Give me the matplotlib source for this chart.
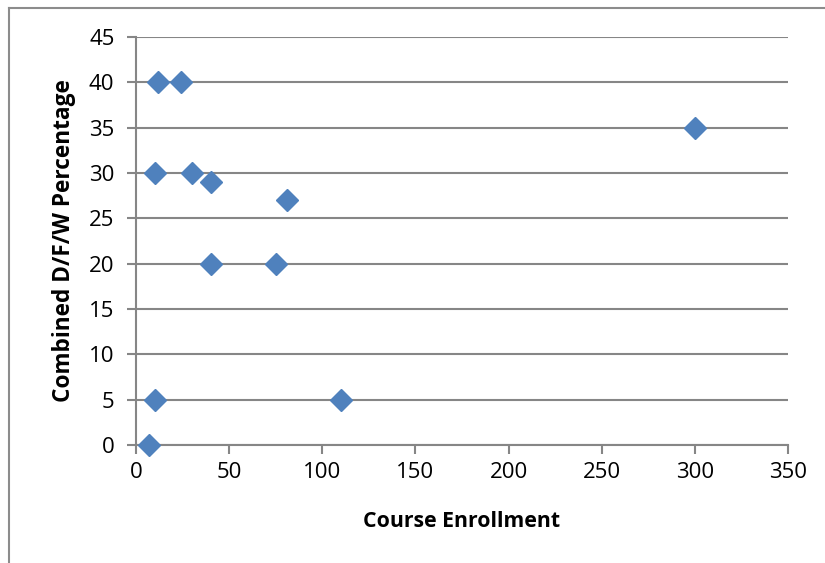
import matplotlib
matplotlib.use("Agg")
import matplotlib.pyplot as plt
from matplotlib.lines import Line2D

# Course enrollment vs combined D/F/W percentage
enrollment = [12, 24, 10, 30, 40, 81, 40, 75, 10, 110, 7, 300]
dfw_pct = [40, 40, 30, 30, 29, 27, 20, 20, 5, 5, 0, 35]

x_ticks = [0, 50, 100, 150, 200, 250, 300, 350]
y_ticks = [0, 5, 10, 15, 20, 25, 30, 35, 40, 45]

plt.rcParams['font.family'] = ['Open Sans', 'DejaVu Sans']

W, H = 825, 563
fig = plt.figure(figsize=(W / 100, H / 100), dpi=100)
ax = fig.add_axes([136 / W, 1 - 445 / H, (788 - 136) / W, (445 - 37) / H])

grid_col = '#868686'
ax.set_xlim(0, 350)
ax.set_ylim(0, 45)
ax.set_xticks(x_ticks)
ax.set_yticks(y_ticks)
ax.yaxis.grid(True, color=grid_col, linewidth=1.5)
ax.set_axisbelow(True)

for side in ('top', 'right'):
    ax.spines[side].set_visible(False)
for side in ('left', 'bottom'):
    ax.spines[side].set_color(grid_col)
    ax.spines[side].set_linewidth(1.5)

ax.tick_params(axis='both', direction='out', length=6.5, width=1.5, color=grid_col,
               labelsize=16, labelcolor='black')
ax.tick_params(axis='x', pad=6)
ax.tick_params(axis='y', pad=9)

ax.plot(enrollment, dfw_pct, linestyle='none', marker='D', markersize=11,
        markerfacecolor='#4F81BD', markeredgecolor='#4F81BD', clip_on=False, zorder=3)

ax.set_xlabel('Course Enrollment', fontsize=15.3, fontweight='bold', labelpad=20)
ax.set_ylabel('Combined D/F/W Percentage', fontsize=16.3, fontweight='bold', labelpad=9)

# chart area frame (top and left edges)
fig.add_artist(Line2D([9 / W, 9 / W], [0, 1 - 8 / H], transform=fig.transFigure,
                      color='#8c8c8c', linewidth=1.5))
fig.add_artist(Line2D([9 / W, 1], [1 - 8 / H, 1 - 8 / H], transform=fig.transFigure,
                      color='#8c8c8c', linewidth=1.5))

fig.savefig('out.png', dpi=100, facecolor='white')
